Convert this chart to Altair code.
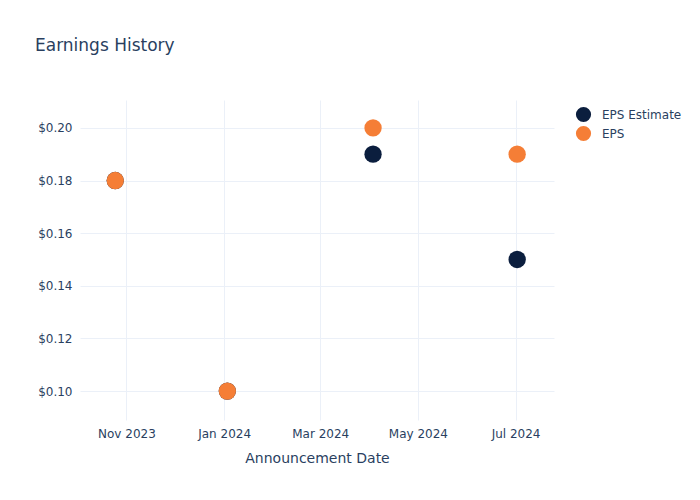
import altair as alt
import pandas as pd

dates = ["2023-10-25", "2024-01-03", "2024-04-03", "2024-07-02"]
eps_estimate = [0.18, 0.10, 0.19, 0.15]
eps_actual = [0.18, 0.10, 0.20, 0.19]
series_names = ["EPS Estimate", "EPS"]
series_colors = ["#0b1e3e", "#f57e36"]
tick_dates = [(2023, 11), (2024, 1), (2024, 3), (2024, 5), (2024, 7)]
y_ticks = [0.10, 0.12, 0.14, 0.16, 0.18, 0.20]

rows = []
for d, v in zip(dates, eps_estimate):
    rows.append({"date": d, "value": v, "series": "EPS Estimate", "ord": 0})
for d, v in zip(dates, eps_actual):
    rows.append({"date": d, "value": v, "series": "EPS", "ord": 1})
df = pd.DataFrame(rows)

FONT = "DejaVu Sans"
TXT = "#2a3f5f"
GRID = "#ebf0f8"

chart = alt.Chart(df).mark_circle(size=300, opacity=1).encode(
    x=alt.X("date:T", title="Announcement Date",
            scale=alt.Scale(type="utc",
                            domain=[alt.DateTime(year=2023, month=10, date=3, utc=True),
                                    alt.DateTime(year=2024, month=7, date=25, utc=True)]),
            axis=alt.Axis(values=[alt.DateTime(year=y, month=m, date=1, utc=True) for y, m in tick_dates],
                          format="%b %Y", grid=True, gridColor=GRID, domain=False, ticks=False,
                          labelPadding=8, titlePadding=12, labelFontSize=12, titleFontSize=14,
                          labelColor=TXT, titleColor=TXT, labelFont=FONT, titleFont=FONT,
                          titleFontWeight="normal")),
    y=alt.Y("value:Q", title=None,
            scale=alt.Scale(domain=[0.089, 0.2106], nice=False, zero=False),
            axis=alt.Axis(values=y_ticks, format="$.2f", grid=True, gridColor=GRID, domain=False,
                          ticks=False, labelPadding=8, labelFontSize=12, labelColor=TXT, labelFont=FONT)),
    color=alt.Color("series:N", scale=alt.Scale(domain=series_names, range=series_colors),
                    sort=series_names,
                    legend=alt.Legend(title=None, orient="none", legendX=495, legendY=6,
                                      symbolSize=230, symbolType="circle", labelFontSize=12,
                                      labelColor=TXT, labelFont=FONT, rowPadding=2,
                                      symbolOpacity=1, labelOffset=10)),
    order=alt.Order("ord:Q"),
).properties(
    width=474, height=320,
    background="white",
    title=alt.TitleParams("Earnings History", anchor="start", frame="group", dx=-45, dy=-41,
                          fontSize=17, font=FONT, color=TXT, fontWeight="normal"),
    autosize=alt.AutoSizeParams(type="none"),
    padding={"left": 80, "top": 100, "right": 146, "bottom": 80},
).configure_view(stroke=None, strokeWidth=0)

chart.save("out.html", embed_options={"renderer": "svg", "actions": False})
